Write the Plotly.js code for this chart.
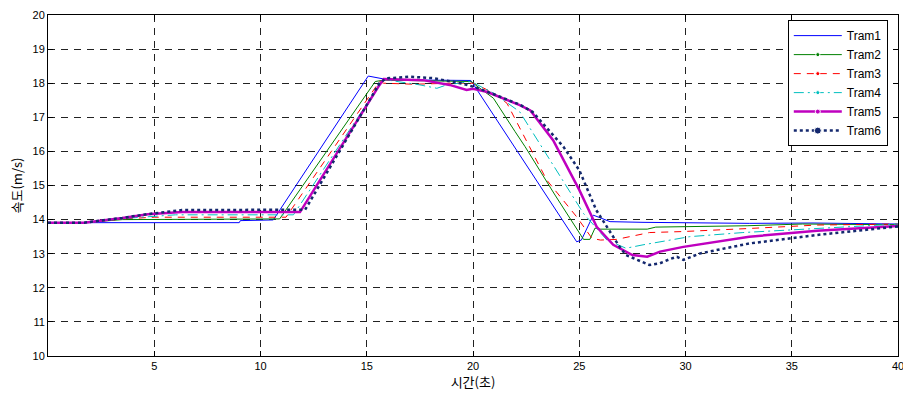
<!DOCTYPE html>
<html><head><meta charset="utf-8">
<script src="https://cdn.plot.ly/plotly-3.0.1.min.js"></script>
<style>html,body{margin:0;padding:0;background:#fff}#chart{width:903px;height:393px}</style>
</head><body><div id="chart"></div>
<script>
// Data
var names = ["Tram1","Tram2","Tram3","Tram4","Tram5","Tram6"];

var t1 = [0, 9.0, 9.05, 10.6, 15.07, 15.5, 16.0, 19.9, 24.88, 25.1, 25.66, 26.0, 26.45, 28, 30, 33, 36, 40];
var v1 = [13.91, 13.91, 13.97, 13.99, 18.21, 18.15, 18.1, 18.08, 13.35, 13.4, 14.13, 14.05, 13.94, 13.92, 13.9, 13.89, 13.9, 13.87];

var t2 = [0, 1.7, 3.5, 10.9, 15.4, 15.8, 19.9, 20.96, 21.98, 22.45, 23.86, 25.2, 25.5, 25.74, 26.0, 28.2, 28.6, 32.9, 35.5, 40];
var v2 = [13.91, 13.91, 14.0, 14.02, 18.05, 18.09, 18.05, 17.56, 16.58, 16.14, 14.72, 13.42, 13.42, 13.75, 13.72, 13.72, 13.78, 13.82, 13.87, 13.85];

var t3 = [0, 1.7, 3.5, 5, 11.2, 15.6, 15.8, 17.2, 19.0, 20.0, 20.2, 21.0, 21.6, 23.47, 24.88, 25.6, 26.0, 26.76, 28.3, 29.9, 33, 36.2, 40];
var v3 = [13.91, 13.91, 14.02, 14.07, 14.07, 18.05, 18.0, 17.97, 18.0, 18.0, 17.95, 17.7, 17.41, 15.16, 14.08, 13.45, 13.4, 13.42, 13.62, 13.65, 13.74, 13.84, 13.87];

var t4 = [0, 1.7, 3.5, 5, 6, 11.55, 15.7, 15.9, 17.5, 18.3, 18.76, 19.9, 21.0, 22.2, 23.94, 25.2, 26.3, 27.2, 28.0, 28.6, 30.2, 32.7, 36.2, 40];
var v4 = [13.91, 13.91, 14.03, 14.1, 14.14, 14.14, 18.05, 18.1, 17.95, 17.85, 17.95, 18.05, 17.7, 17.16, 15.45, 14.18, 13.4, 13.16, 13.26, 13.32, 13.5, 13.62, 13.74, 13.87];

var t5 = [0, 1.7, 3.5, 4.7, 6.3, 11.86, 15.55, 15.8, 17.65, 18.9, 19.7, 20.0, 20.64, 22.2, 22.7, 23.77, 25.0, 25.82, 26.6, 27.5, 28.2, 28.8, 29.9, 31.5, 33, 36.2, 40];
var v5 = [13.91, 13.91, 14.05, 14.16, 14.22, 14.22, 17.9, 18.12, 18.09, 17.95, 17.8, 17.84, 17.75, 17.36, 17.2, 16.33, 14.87, 13.79, 13.26, 12.96, 12.91, 13.06, 13.2, 13.35, 13.5, 13.67, 13.81];

var t6 = [0, 1.7, 3.5, 4.7, 6.3, 12.1, 15.6, 15.9, 17.0, 18.1, 19.4, 20.0, 20.64, 22.2, 22.8, 24.25, 25.0, 25.8, 26.9, 27.2, 28.3, 28.8, 29.3, 29.6, 29.9, 30.7, 33, 36.2, 40];
var v6 = [13.91, 13.91, 14.05, 14.16, 14.28, 14.29, 18.0, 18.14, 18.19, 18.15, 18.0, 17.9, 17.76, 17.37, 17.16, 16.14, 15.45, 14.28, 13.2, 12.96, 12.67, 12.72, 12.85, 12.91, 12.82, 13.01, 13.3, 13.55, 13.8];

var xTicks = [5, 10, 15, 20, 25, 30, 35, 40];
var yTicks = [10, 11, 12, 13, 14, 15, 16, 17, 18, 19, 20];

var xs = [t1, t2, t3, t4, t5, t6];
var ys = [v1, v2, v3, v4, v5, v6];
var styles = [
  {color: "#0000ff", width: 1, dash: "solid", mode: "lines"},
  {color: "#008000", width: 1, dash: "solid", mode: "lines+markers"},
  {color: "#ff0000", width: 1, dash: "7px,6px", mode: "lines+markers"},
  {color: "#00bfbf", width: 1, dash: "10px,4px,2px,4px", mode: "lines+markers"},
  {color: "#bf00bf", width: 2.5, dash: "solid", mode: "lines+markers"},
  {color: "#14286e", width: 2.5, dash: "dot", mode: "lines+markers"}
];
var legendMs = [0, 4, 4, 4, 5, 7];

var traces = names.map(function(n, i){
  var s = styles[i];
  return {
    x: xs[i], y: ys[i], name: n, type: "scatter", mode: s.mode,
    line: {color: s.color, width: s.width, dash: s.dash},
    marker: {color: s.color, size: xs[i].map(function(){return 0;}), symbol: "circle"}
  };
});

var layout = {
  width: 903, height: 393,
  margin: {l: 48, r: 5, t: 15, b: 37},
  paper_bgcolor: "#fff", plot_bgcolor: "#fff",
  font: {family: "Liberation Sans, Arial, sans-serif", size: 11, color: "#000"},
  showlegend: true,
  legend: {
    x: 0.988, y: 0.985, xanchor: "right", yanchor: "top",
    bgcolor: "#fff", bordercolor: "#000", borderwidth: 1,
    font: {family: "Liberation Sans, Arial, sans-serif", size: 12, color: "#000"},
    itemsizing: "trace", itemwidth: 48
  },
  xaxis: {
    range: [0, 40], tickvals: xTicks, ticktext: xTicks.map(String),
    ticklabeloverflow: "allow",
    showgrid: true, gridcolor: "#222", gridwidth: 1, griddash: "7px,6px",
    zeroline: false, showline: true, linecolor: "#000", linewidth: 1, mirror: "ticks",
    ticks: "inside", ticklen: 5, tickcolor: "#000",
    tickfont: {size: 11},
    title: {text: "시간(초)", font: {family: "Noto Sans CJK KR", size: 13}, standoff: 4}
  },
  yaxis: {
    range: [10, 20], tickvals: yTicks,
    showgrid: true, gridcolor: "#222", gridwidth: 1, griddash: "7px,6px",
    zeroline: false, showline: true, linecolor: "#000", linewidth: 1, mirror: "ticks",
    ticks: "inside", ticklen: 5, tickcolor: "#000",
    tickfont: {size: 11},
    title: {text: "속도(m/s)", font: {family: "Noto Sans CJK KR", size: 13}, standoff: 6}
  }
};

Plotly.newPlot("chart", traces, layout, {staticPlot: true, displayModeBar: false}).then(function(gd){
  // legend marker sizes (styling of legend symbols only)
  var items = gd.querySelectorAll(".legend .traces");
  items.forEach(function(tr, i){
    tr.querySelectorAll("path.scatterpts").forEach(function(p){
      var r = legendMs[i] / 2;
      if (r > 0) {
        p.setAttribute("d", "M" + r + ",0A" + r + "," + r + " 0 1,1 0,-" + r + "A" + r + "," + r + " 0 0,1 " + r + ",0Z");
        p.style.fill = styles[i].color;
        p.style.opacity = 1;
      } else {
        p.setAttribute("d", "M0,0");
      }
    });
  });
});
</script>
</body></html>
